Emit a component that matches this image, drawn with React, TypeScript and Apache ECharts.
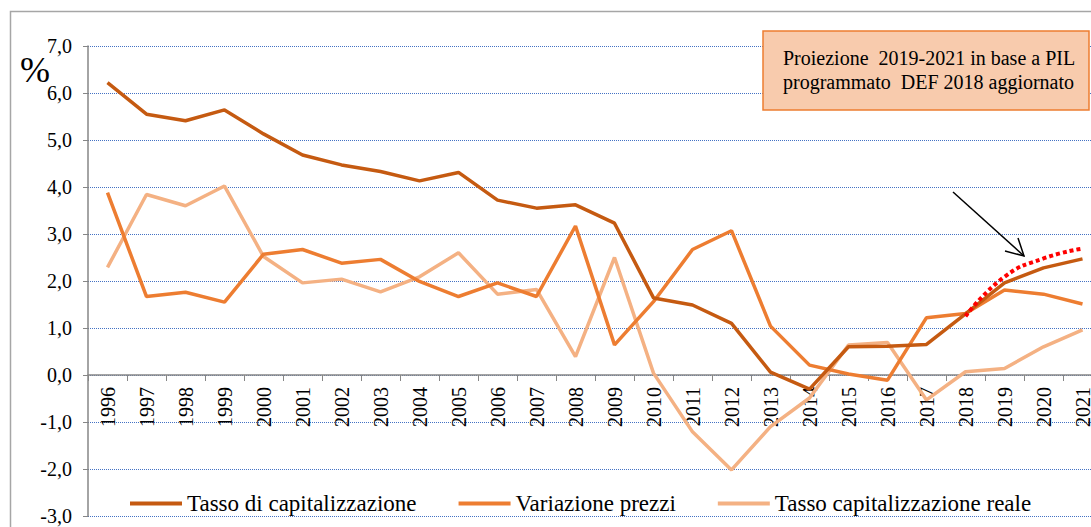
import React, { useEffect, useRef } from "react";
import * as echarts from "echarts";

const years = ["1996","1997","1998","1999","2000","2001","2002","2003","2004","2005","2006","2007","2008","2009","2010","2011","2012","2013","2014","2015","2016","2017","2018","2019","2020","2021"];
const tassoCap = [6.22,5.55,5.41,5.64,5.13,4.68,4.47,4.33,4.13,4.31,3.72,3.55,3.62,3.23,1.64,1.49,1.10,0.06,-0.30,0.60,0.61,0.65,1.30,1.96,2.28,2.47];
const variazionePrezzi = [3.88,1.67,1.76,1.55,2.57,2.67,2.38,2.46,1.99,1.67,1.96,1.67,3.17,0.64,1.56,2.67,3.07,1.04,0.21,0.02,-0.11,1.22,1.31,1.81,1.72,1.51];
const tassoReale = [2.29,3.84,3.60,4.02,2.52,1.96,2.04,1.77,2.09,2.60,1.72,1.82,0.39,2.50,0.04,-1.21,-2.02,-1.10,-0.49,0.64,0.69,-0.53,0.07,0.14,0.60,0.96];
const proiezione = [null,null,null,null,null,null,null,null,null,null,null,null,null,null,null,null,null,null,null,null,null,null,1.25,2.09,2.48,2.69];
const seriesNames = ["Tasso di capitalizzazione", "Variazione prezzi", "Tasso capitalizzazione reale"];
const noteLines = ["Proiezione  2019-2021 in base a PIL", "programmato  DEF 2018 aggiornato"];
const Y_MIN = -3;
const Y_MAX = 7;

const FAM = "Liberation Serif";
const GRID_TOP = 46;
const GRID_H = 470;

export default function App() {
  const ref = useRef<HTMLDivElement>(null);
  useEffect(() => {
    if (!ref.current) return;
    const chart = echarts.init(ref.current, undefined, { renderer: "svg" });
    const zeroOffset = ((0 - Y_MIN) / (Y_MAX - Y_MIN)) * GRID_H;
    chart.setOption({
      animation: false,
      backgroundColor: "#ffffff",
      grid: { left: 88, top: GRID_TOP, width: 1014, height: GRID_H, containLabel: false, outerBoundsMode: "none" },
      legend: {
        data: seriesNames,
        left: 125,
        top: 487,
        itemWidth: 52,
        itemHeight: 14,
        itemGap: 42,
        icon: "path://M0,6 L52,6 L52,10 L0,10 Z",
        textStyle: { fontFamily: FAM, fontSize: 23, color: "#000" },
      },
      xAxis: [
        {
          type: "category",
          data: years,
          boundaryGap: true,
          axisLine: { onZero: true, lineStyle: { color: "#868686", width: 1.5 } },
          axisTick: { show: true, interval: 0, length: 6, lineStyle: { color: "#868686" } },
          axisLabel: { show: false },
          splitLine: { show: false },
        },
        {
          type: "category",
          data: years,
          boundaryGap: true,
          position: "bottom",
          offset: -zeroOffset,
          axisLine: { show: false, onZero: false },
          axisTick: { show: false },
          axisLabel: { interval: 0, rotate: 90, fontSize: 20, fontFamily: FAM, color: "#000", margin: 12 },
          splitLine: { show: false },
        },
      ],
      yAxis: {
        type: "value",
        min: Y_MIN,
        max: Y_MAX,
        interval: 1,
        axisLine: { show: true, lineStyle: { color: "#868686", width: 1.5 } },
        axisTick: { show: true, length: 5, lineStyle: { color: "#868686" } },
        axisLabel: {
          fontSize: 20,
          fontFamily: FAM,
          color: "#000",
          margin: 16,
          formatter: (v: number) => v.toFixed(1).replace(".", ","),
        },
        splitLine: { show: true, lineStyle: { color: "#4472C4", type: [1, 1], width: 1 } },
      },
      series: [
        { name: seriesNames[0], type: "line", data: tassoCap, symbol: "none", lineStyle: { color: "#C55A11", width: 3.5 }, itemStyle: { color: "#C55A11" }, z: 3 },
        { name: seriesNames[1], type: "line", data: variazionePrezzi, symbol: "none", lineStyle: { color: "#ED7D31", width: 3.5 }, itemStyle: { color: "#ED7D31" }, z: 2 },
        { name: seriesNames[2], type: "line", data: tassoReale, symbol: "none", lineStyle: { color: "#F4B183", width: 3.5 }, itemStyle: { color: "#F4B183" }, z: 1 },
        { name: "Proiezione", type: "line", data: proiezione, symbol: "none", smooth: true, lineStyle: { color: "#FF0000", width: 4, type: [4, 3] }, itemStyle: { color: "#FF0000" }, z: 4 },
      ],
      graphic: [
        { type: "rect", shape: { x: 10.5, y: 11.5, width: 1200, height: 700 }, style: { fill: "none", stroke: "#A6A6A6", lineWidth: 1.5 }, silent: true, z: -1 },
        { type: "text", x: 20, y: 52, style: { text: "%", font: `36px "${FAM}"`, fill: "#000" } },
        { type: "rect", shape: { x: 763, y: 31, width: 326, height: 79 }, style: { fill: "#F8CBAD", stroke: "#ED7D31", lineWidth: 1.5 }, z: 10 },
        { type: "text", x: 783, y: 48, z: 11, style: { text: noteLines[0], font: `20px "${FAM}"`, fill: "#000" } },
        { type: "text", x: 783, y: 71.5, z: 11, style: { text: noteLines[1], font: `20px "${FAM}"`, fill: "#000" } },
        { type: "line", shape: { x1: 953, y1: 192, x2: 1024, y2: 256 }, style: { stroke: "#000", lineWidth: 1.5 }, z: 10 },
        { type: "polyline", shape: { points: [[1005, 251], [1024, 256], [1018, 238]] }, style: { stroke: "#000", lineWidth: 1.5, fill: "none" }, z: 10 },
      ],
    });
    return () => chart.dispose();
  }, []);
  return (
    <div
      ref={ref}
      style={{ position: "fixed", left: 0, top: 0, width: 1091, height: 527, overflow: "hidden", background: "#fff" }}
    />
  );
}
